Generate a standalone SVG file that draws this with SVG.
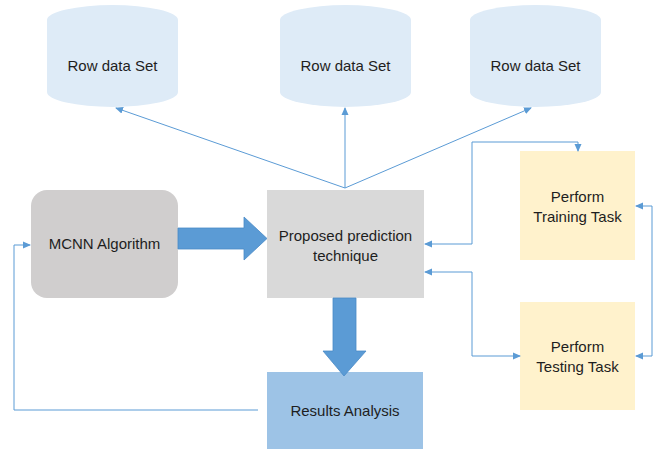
<svg xmlns="http://www.w3.org/2000/svg" width="662" height="449" viewBox="0 0 662 449">
  <style>
    .lbl { font-family: "Liberation Sans", Arial, sans-serif; font-size: 15px; fill: #1e1e1e; text-anchor: middle; }
    .cyl { fill: #deebf7; }
    .conn { fill: none; stroke: #5b9bd5; stroke-width: 1; }
    .blk { fill: #5b9bd5; stroke: #4a8ac6; stroke-width: 0.8; }
  </style>
  <defs>
    <marker id="ah" viewBox="0 0 8 8" refX="7" refY="4" markerWidth="8" markerHeight="8" markerUnits="userSpaceOnUse" orient="auto-start-reverse">
      <path d="M0,0.5 L8,4 L0,7.5 Z" fill="#5b9bd5"/>
    </marker>
  </defs>
  <rect width="662" height="449" fill="#ffffff"/>

  <!-- data stores -->
  <g id="rowdata1">
    <path class="cyl" d="M47,20 A65.5,15 0 0 1 178,20 L178,92 A65.5,15 0 0 1 47,92 Z"/>
    <text class="lbl" x="112.5" y="71">Row data Set</text>
  </g>
  <g id="rowdata2">
    <path class="cyl" d="M280,20 A65.5,15 0 0 1 411,20 L411,92 A65.5,15 0 0 1 280,92 Z"/>
    <text class="lbl" x="345.5" y="71">Row data Set</text>
  </g>
  <g id="rowdata3">
    <path class="cyl" d="M470,20 A65.5,15 0 0 1 601,20 L601,92 A65.5,15 0 0 1 470,92 Z"/>
    <text class="lbl" x="535.5" y="71">Row data Set</text>
  </g>

  <!-- process boxes -->
  <g id="mcnn">
    <rect x="31" y="190" width="147" height="108" rx="16" fill="#d0cece"/>
    <text class="lbl" x="104.5" y="249">MCNN Algorithm</text>
  </g>
  <g id="proposed">
    <rect x="267" y="190" width="157" height="108" fill="#d9d9d9"/>
    <text class="lbl" x="345.5" y="241">Proposed prediction</text>
    <text class="lbl" x="345.5" y="261">technique</text>
  </g>
  <g id="results">
    <rect x="267" y="372" width="156" height="77" fill="#9dc3e6"/>
    <text class="lbl" x="345" y="416">Results Analysis</text>
  </g>
  <g id="training">
    <rect x="520" y="151" width="115" height="109" fill="#fff2cc"/>
    <text class="lbl" x="577.5" y="202">Perform</text>
    <text class="lbl" x="577.5" y="222">Training Task</text>
  </g>
  <g id="testing">
    <rect x="520" y="302" width="115" height="108" fill="#fff2cc"/>
    <text class="lbl" x="577.5" y="352">Perform</text>
    <text class="lbl" x="577.5" y="372">Testing  Task</text>
  </g>

  <!-- connectors -->
  <g id="connectors">
    <path class="blk" d="M178,228 L244,228 L244,217 L267,238.5 L244,260 L244,249 L178,249 Z"/>
    <path class="blk" d="M333,298 L356,298 L356,351 L366,351 L344,376 L323,351 L333,351 Z"/>
    <line class="conn" x1="345" y1="188" x2="116" y2="108" marker-end="url(#ah)"/>
    <line class="conn" x1="345" y1="188" x2="345" y2="108" marker-end="url(#ah)"/>
    <line class="conn" x1="345" y1="188" x2="531" y2="108" marker-end="url(#ah)"/>
    <polyline class="conn" points="425,244 472,244 472,142 578,142 578,151" marker-start="url(#ah)" marker-end="url(#ah)"/>
    <polyline class="conn" points="425,272 472,272 472,356 520,356" marker-start="url(#ah)" marker-end="url(#ah)"/>
    <polyline class="conn" points="636,206 652,206 652,356 636,356" marker-start="url(#ah)" marker-end="url(#ah)"/>
    <polyline class="conn" points="258,410 14,410 14,245 30,245" marker-end="url(#ah)" stroke="#9dc3e6"/>
  </g>
</svg>
